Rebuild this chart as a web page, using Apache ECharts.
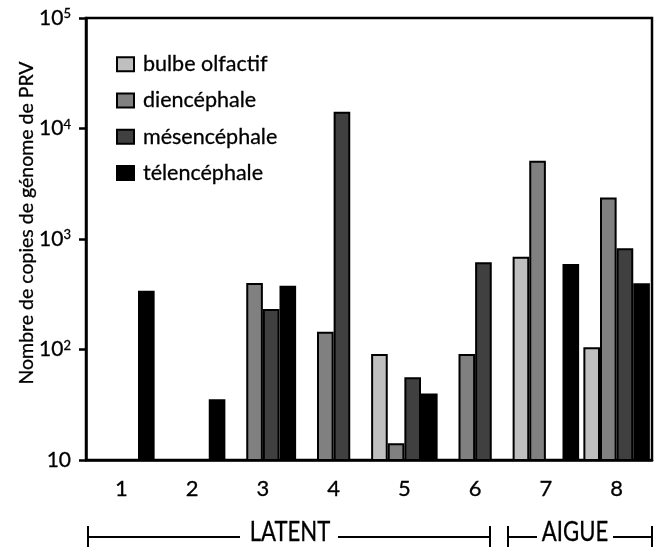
<!DOCTYPE html>
<html>
<head>
<meta charset="utf-8">
<script src="https://cdn.jsdelivr.net/npm/echarts@6/dist/echarts.min.js"></script>
<style>html,body{margin:0;padding:0;background:#fff;}#c{width:667px;height:547px;}</style>
</head>
<body>
<div id="c"></div>
<script>
const categories = ['1', '2', '3', '4', '5', '6', '7', '8'];
const seriesNames = ['bulbe olfactif', 'diencéphale', 'mésencéphale', 'télencéphale'];
const bulbe = [null, null, null, null, 91, null, 690, 105];
const diencephale = [null, null, 400, 145, 14.2, 91, 5100, 2370];
const mesencephale = [null, null, 232, 14200, 56, 615, null, 825];
const telencephale = [340, 35.5, 378, null, 40, null, 595, 398];
const phaseLabels = ['LATENT', 'AIGUE'];

const FONT = "Lato, 'Open Sans', sans-serif";
const colors = ['#bfbfbf', '#808080', '#404040', '#000000'];
const values = [bulbe, diencephale, mesencephale, telencephale];
const heavy = {textBorderColor: '#000', textBorderWidth: 0.3};

const chart = echarts.init(document.getElementById('c'), null, {renderer: 'canvas'});

const series = seriesNames.map((n, i) => ({
  name: n,
  type: 'bar',
  data: values[i],
  barGap: '0%',
  barCategoryGap: '6%',
  clip: true,
  itemStyle: {color: colors[i], borderColor: '#000', borderWidth: 2},
  emphasis: {disabled: true}
}));

chart.setOption({
  animation: false,
  textStyle: {fontFamily: FONT, color: '#000'},
  grid: {left: 86, right: 15, top: 18, bottom: 87, show: true, borderColor: '#000', borderWidth: 2.5, backgroundColor: 'transparent'},
  legend: {
    orient: 'vertical',
    left: 116,
    top: 53,
    padding: 0,
    itemWidth: 17,
    itemHeight: 14,
    itemGap: 14,
    icon: 'rect',
    data: seriesNames,
    textStyle: Object.assign({fontFamily: FONT, fontSize: 21.5, color: '#000', padding: [0, 0, 0, 4]}, heavy)
  },
  xAxis: {
    type: 'category',
    data: categories,
    axisLine: {lineStyle: {color: '#000', width: 2.5}},
    axisTick: {alignWithLabel: true, length: 10, lineStyle: {color: '#000', width: 2.5}},
    axisLabel: Object.assign({fontFamily: FONT, fontSize: 22, color: '#000', margin: 18}, heavy)
  },
  yAxis: {
    type: 'log',
    logBase: 10,
    min: 10,
    max: 100000,
    name: 'Nombre de copies de génome de PRV',
    nameLocation: 'middle',
    nameGap: 49,
    nameMoveOverlap: false,
    nameTextStyle: Object.assign({fontFamily: FONT, fontSize: 19.5, color: '#000', padding: [0, 0, 0, 32]}, heavy),
    splitLine: {show: false},
    axisLine: {show: true, lineStyle: {color: '#000', width: 2.5}},
    axisTick: {show: true, length: 7, lineStyle: {color: '#000', width: 2.5}},
    axisLabel: Object.assign({
      margin: 15,
      fontFamily: FONT,
      fontSize: 21,
      color: '#000',
      formatter: function (v) {
        const e = Math.round(Math.log10(v));
        return e === 1 ? '10' : '10{sup|' + e + '}';
      },
      rich: {sup: Object.assign({fontSize: 13, fontFamily: FONT, color: '#000', verticalAlign: 'top', lineHeight: 14, padding: [0, 0, 10, 0]}, heavy)}
    }, heavy)
  },
  series: series
});

// phase brackets below the axis
const yLine = 537, tickTop = 526, tickBot = 547;
function bracket(x1, x2, t1, t2) {
  const st = {stroke: '#000', lineWidth: 2};
  return [
    {type: 'line', shape: {x1: x1, y1: yLine, x2: t1, y2: yLine}, style: st, silent: true},
    {type: 'line', shape: {x1: t2, y1: yLine, x2: x2, y2: yLine}, style: st, silent: true},
    {type: 'line', shape: {x1: x1, y1: tickTop, x2: x1, y2: tickBot}, style: st, silent: true},
    {type: 'line', shape: {x1: x2, y1: tickTop, x2: x2, y2: tickBot}, style: st, silent: true}
  ];
}
const phaseText = {fontFamily: FONT, fontSize: 27, fill: '#000', align: 'center', verticalAlign: 'middle', stroke: '#000', lineWidth: 0.3};
chart.setOption({
  graphic: [].concat(
    bracket(88, 490, 240, 338),
    bracket(508, 652, 537, 613),
    [
      {type: 'text', x: 290, y: 532, scaleX: 0.82, style: Object.assign({text: phaseLabels[0]}, phaseText), silent: true},
      {type: 'text', x: 575, y: 532, scaleX: 0.82, style: Object.assign({text: phaseLabels[1]}, phaseText), silent: true}
    ]
  )
});
</script>
</body>
</html>
